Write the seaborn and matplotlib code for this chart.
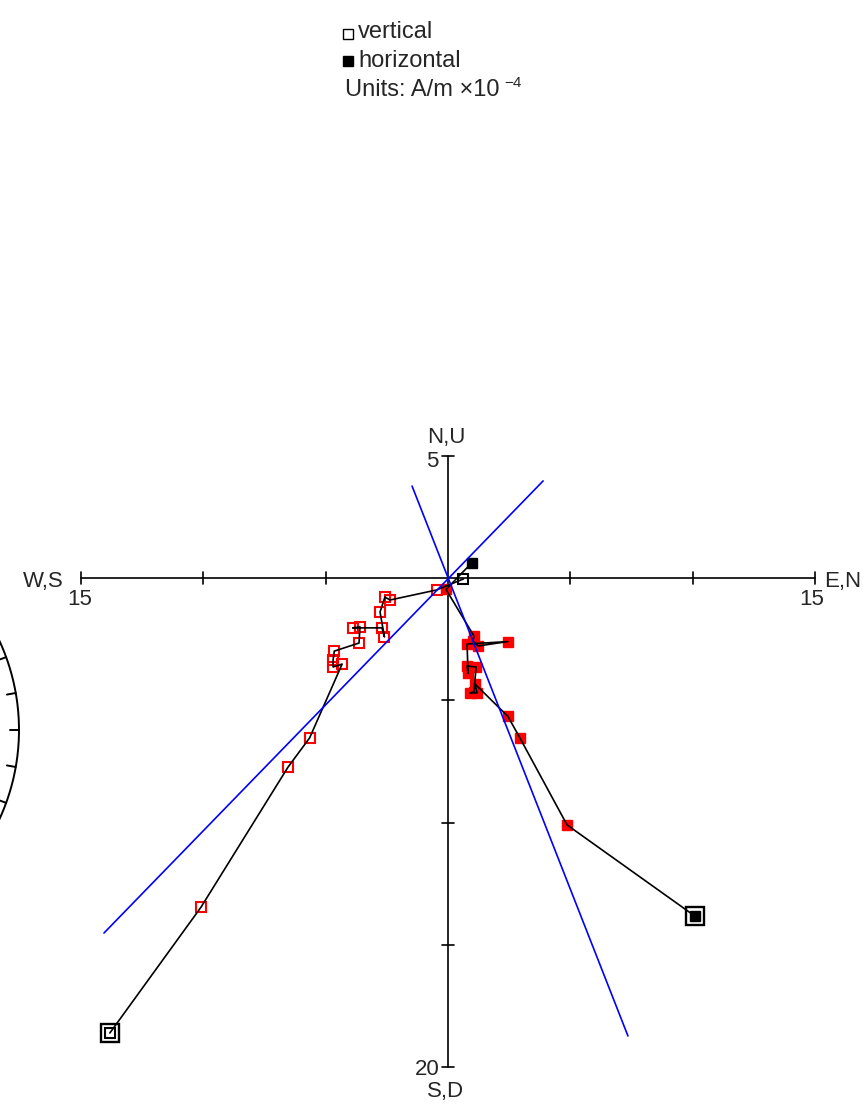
import numpy as np
import matplotlib
matplotlib.use("Agg")
import matplotlib.pyplot as plt
import seaborn as sns

# ---------------- data (A/m x10^-4) ----------------
step = list(range(1, 19))
east = [10.10, 4.87, 2.94, 2.45, 1.10, 1.19, 0.90, 1.06, 1.15, 0.78, 0.82, 0.78,
        2.45, 1.23, 1.02, 1.06, -0.08, 0.98]
north = [-13.83, -10.10, -6.54, -5.66, -4.33, -4.70, -4.70, -4.65, -3.64, -3.60,
         -3.90, -2.70, -2.60, -2.78, -2.58, -2.37, -0.47, 0.63]
up = [-18.61, -13.46, -7.73, -6.54, -3.52, -3.64, -3.35, -2.99, -2.66, -2.00,
      -2.04, -2.04, -2.41, -1.39, -0.78, -0.90, -0.49, -0.04]
in_fit = [False] + [True] * 16 + [False]

# principal-component fit lines (endpoints)
fit_v_x = [-14.07, 3.89]
fit_v_y = [-14.52, 3.97]
fit_h_x = [-1.47, 7.36]
fit_h_y = [3.76, -18.73]

# axis extents and labels
x_extent = 15
y_top = 5
y_bottom = 20
x_ticks = [-15, -10, -5, 5, 10, 15]
y_ticks = [5, -5, -10, -15, -20]

# ---------------- figure ----------------
sns.set_style("white")
plt.rcParams["font.family"] = ["Liberation Sans", "DejaVu Sans"]

W, H = 866, 1111
fig = plt.figure(figsize=(W / 100, H / 100), dpi=100)
ax = fig.add_axes([0, 0, 1, 1])
S = 24.45
OX, OY = 448, 578
ax.set_xlim(-OX / S, (W - OX) / S)
ax.set_ylim((OY - H) / S, OY / S)
ax.axis("off")


def d(px, py):
    return (px - OX) / S, (OY - py) / S


FS = 16
# axes
ax.plot([-x_extent, x_extent], [0, 0], color="black", lw=1.2, zorder=1)
ax.plot([0, 0], [-y_bottom, y_top], color="black", lw=1.2, zorder=1)
tl = 6 / S
for t in x_ticks:
    ax.plot([t, t], [-tl, tl], color="black", lw=1.2, zorder=1)
for t in y_ticks:
    ax.plot([-tl, tl], [t, t], color="black", lw=1.2, zorder=1)

# axis labels
def txt(px, py, s, **kw):
    x, y = d(px, py)
    ax.text(x, y, s, fontsize=kw.pop("fontsize", FS), ha=kw.pop("ha", "center"),
            va=kw.pop("va", "baseline"), **kw)

txt(43, 587, "W,S")
txt(80, 605, "15")
txt(812, 605, "15")
txt(843, 587, "E,N")
txt(446, 443, "N,U")
txt(432, 467, "5")
txt(427, 1075, "20")
txt(446, 1097, "S,D")

# stereonet arc fragment at the left edge
cx, cy = d(-194, 730)
R = 213 / S
th = np.linspace(np.radians(-40), np.radians(40), 200)
ax.plot(cx + R * np.cos(th), cy + R * np.sin(th), color="black", lw=1.4)
for a in range(-30, 31, 10):
    ar = np.radians(a)
    r0, r1 = R - 9 / S, R
    ax.plot([cx + r0 * np.cos(ar), cx + r1 * np.cos(ar)],
            [cy + r0 * np.sin(ar), cy + r1 * np.sin(ar)], color="black", lw=1.4)

# markers
ms = 7.5
for i in range(len(step)):
    col = "red" if in_fit[i] else "black"
    ax.plot(north[i], up[i], marker="s", ms=ms, mfc="none", mec=col, mew=1.5,
            zorder=3)
    ax.plot(east[i], north[i], marker="s", ms=ms, mfc=col, mec=col, mew=1.0,
            zorder=3)
# NRM emphasis
ax.plot(north[0], up[0], marker="s", ms=12.5, mfc="none", mec="black", mew=1.7, zorder=3)
ax.plot(east[0], north[0], marker="s", ms=12.5, mfc="none", mec="black", mew=1.7, zorder=3)

# demagnetisation paths
sns.lineplot(x=north, y=up, sort=False, estimator=None, color="black", lw=1.2,
             ax=ax, zorder=4)
sns.lineplot(x=east, y=north, sort=False, estimator=None, color="black", lw=1.2,
             ax=ax, zorder=4)

# fit lines
sns.lineplot(x=fit_v_x, y=fit_v_y, sort=False, estimator=None, color="#0000ff",
             lw=1.2, ax=ax, zorder=5)
sns.lineplot(x=fit_h_x, y=fit_h_y, sort=False, estimator=None, color="#0000ff",
             lw=1.2, ax=ax, zorder=5)

# legend
LFS = 17
x0, y0 = d(348, 34)
ax.plot(x0, y0, marker="s", ms=6.5, mfc="none", mec="black", mew=1.0)
x0, y0 = d(348, 61)
ax.plot(x0, y0, marker="s", ms=6.5, mfc="black", mec="black")
txt(358, 38, "vertical", ha="left", fontsize=LFS)
txt(358, 67, "horizontal", ha="left", fontsize=LFS)
txt(345, 96, "Units: A/m \u00d710", ha="left", fontsize=LFS)
txt(504, 87, "\u22124", ha="left", fontsize=11)

fig.savefig("out.png", dpi=100)
